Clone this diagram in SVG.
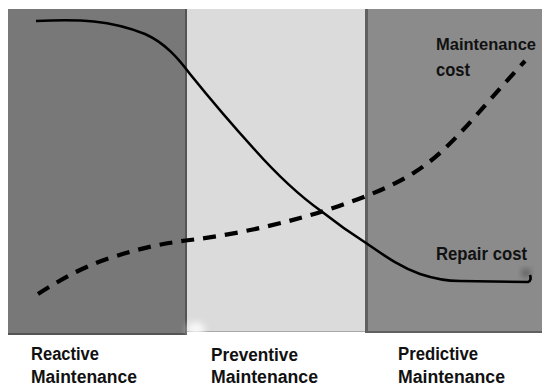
<svg xmlns="http://www.w3.org/2000/svg" width="542" height="388" viewBox="0 0 542 388">
  <defs>
    <style>
      .lbl { font-family: "Liberation Sans", Arial, sans-serif; font-weight: bold; font-size: 18px; fill: #111; }
      .sm { font-size: 17px; }
      .curve { fill: none; stroke: #000; stroke-linecap: butt; }
    </style>
    <filter id="blur" x="-50%" y="-50%" width="200%" height="200%">
      <feGaussianBlur stdDeviation="3"/>
    </filter>
  </defs>
  <rect width="542" height="388" fill="#ffffff"/>

  <g id="reactive-panel">
    <rect x="8" y="9" width="179" height="326" fill="#545454"/>
    <rect x="8" y="9" width="177" height="324" fill="#787878"/>
  </g>
  <g id="preventive-panel">
    <rect x="187" y="9" width="178" height="323" fill="#a8a8a8"/>
    <rect x="187" y="9" width="178" height="322" fill="#dbdbdb"/>
    <ellipse cx="196" cy="329" rx="9" ry="7" fill="#ffffff" opacity="0.8" filter="url(#blur)"/>
  </g>
  <g id="predictive-panel">
    <rect x="365" y="9" width="177" height="324" fill="#606060"/>
    <rect x="368" y="9" width="174" height="322" fill="#8b8b8b"/>
    <circle cx="526" cy="273" r="4" fill="#555" filter="url(#blur)"/>
  </g>

  <g id="connectors">
    <path id="repair-cost-curve" class="curve" stroke-width="2.6"
      d="M36,21 C80,19 110,20 145,34 C165,43 178,58 190,74 C215,105 235,128 255,150 C280,178 300,196 321,211 C340,226 355,236 366,243 C385,256 400,267 420,274 C435,279 445,281 460,281 L528,282 C531,281 531,278 530,275"/>
    <path id="maintenance-cost-curve" class="curve" stroke-width="4.2" stroke-dasharray="13 9"
      d="M38,294 C60,280 80,268 110,258 C140,248 165,243 190,240 C240,234 290,222 330,209 C360,199 390,188 415,172 C450,150 475,115 525,61"/>
  </g>

  <g id="label-maintenance-cost">
    <text class="lbl sm" x="436" y="50" textLength="100" lengthAdjust="spacingAndGlyphs">Maintenance</text>
    <text class="lbl" x="436" y="76" textLength="34" lengthAdjust="spacingAndGlyphs">cost</text>
  </g>
  <g id="label-repair-cost">
    <text class="lbl" x="436" y="260" textLength="91" lengthAdjust="spacingAndGlyphs">Repair cost</text>
  </g>

  <g id="label-reactive">
    <text class="lbl" x="31" y="360" textLength="68" lengthAdjust="spacingAndGlyphs">Reactive</text>
    <text class="lbl" x="31" y="383" textLength="106" lengthAdjust="spacingAndGlyphs">Maintenance</text>
  </g>
  <g id="label-preventive">
    <text class="lbl" x="211" y="361" textLength="87" lengthAdjust="spacingAndGlyphs">Preventive</text>
    <text class="lbl" x="211" y="383" textLength="107" lengthAdjust="spacingAndGlyphs">Maintenance</text>
  </g>
  <g id="label-predictive">
    <text class="lbl" x="398" y="360" textLength="80" lengthAdjust="spacingAndGlyphs">Predictive</text>
    <text class="lbl" x="398" y="383" textLength="107" lengthAdjust="spacingAndGlyphs">Maintenance</text>
  </g>
</svg>
